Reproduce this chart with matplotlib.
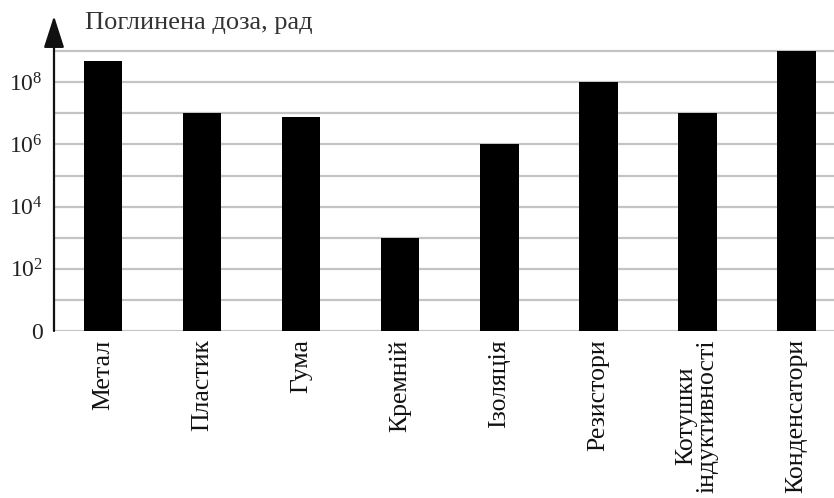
import matplotlib
matplotlib.use('Agg')
import matplotlib.pyplot as plt
import numpy as np

# categories and absorbed dose values (rad)
categories = ['Метал', 'Пластик', 'Гума', 'Кремній', 'Ізоляція',
              'Резистори', 'Котушки\nіндуктивності', 'Конденсатори']
doses = [4.8e8, 1e7, 7.6e6, 1e3, 1e6, 1e8, 1e7, 1e9]
ytick_vals = [10**k for k in range(0, 10)]
ytick_labels = ['0', '', r'$\mathregular{10^{2}}$', '', r'$\mathregular{10^{4}}$', '',
                r'$\mathregular{10^{6}}$', '', r'$\mathregular{10^{8}}$', '']
title = 'Поглинена доза, рад'

plt.rcParams['font.family'] = ['Liberation Serif', 'DejaVu Serif']
plt.rcParams['mathtext.fontset'] = 'custom'
plt.rcParams['mathtext.rm'] = 'Liberation Serif'

fig = plt.figure(figsize=(8.34, 4.98), dpi=100)
ax = fig.add_axes([54 / 834, 1 - 331 / 498, 1 - 54 / 834, (331 - 16) / 498])

x = np.arange(len(categories))
ax.bar(x, doses, width=0.39, color='black', zorder=3)

ax.set_yscale('log')
ax.set_ylim(1, 10**10.13)
ax.set_xlim(-0.495, 7.38)

# gridlines at every decade
for v in ytick_vals:
    ax.axhline(v, color='#c4c4c4', lw=1.6, zorder=1)

ax.set_yticks(ytick_vals)
ax.set_yticklabels(ytick_labels, fontsize=17, color='#222222')
ax.yaxis.set_minor_locator(matplotlib.ticker.NullLocator())
ax.tick_params(axis='y', length=0, pad=8)

ax.set_xticks(x)
ax.set_xticklabels(categories, rotation=90, fontsize=18.5, color='#111111',
                   linespacing=0.95)
ax.tick_params(axis='x', length=0, pad=6)

for s in ['top', 'right', 'bottom', 'left']:
    ax.spines[s].set_visible(False)

# y axis with arrow
ax.annotate('', xy=(0, 1), xycoords='axes fraction', xytext=(0, 0),
            textcoords='axes fraction',
            arrowprops=dict(arrowstyle='-|>,head_length=1.4,head_width=0.45',
                            color='#111111', lw=1.6, mutation_scale=14,
                            shrinkA=0, shrinkB=0),
            annotation_clip=False)

fig.text(85 / 834, 1 - 23 / 498, title, fontsize=19, color='#333333',
         ha='left', va='center')

fig.savefig('out.png', dpi=100)
